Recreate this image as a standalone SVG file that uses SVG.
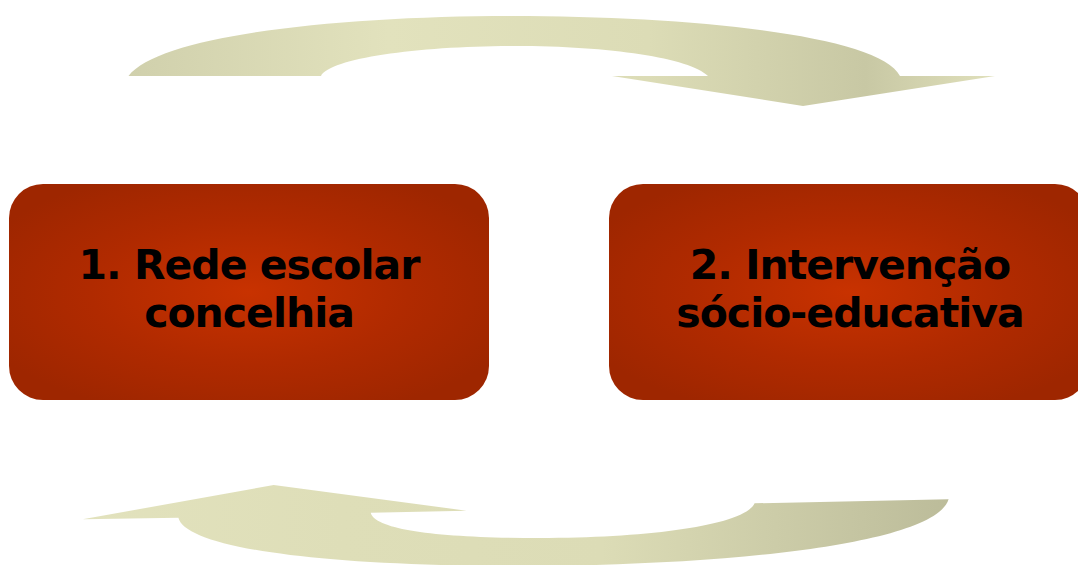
<svg xmlns="http://www.w3.org/2000/svg" width="1078" height="565" viewBox="0 0 1078 565">
  <defs>
    <radialGradient id="boxFill" cx="0.5" cy="0.5" r="0.6">
      <stop offset="0" stop-color="#c83200"/>
      <stop offset="0.55" stop-color="#b02a00"/>
      <stop offset="1" stop-color="#9e2600"/>
    </radialGradient>
    <linearGradient id="arrowTop" x1="0" y1="0" x2="1" y2="0">
      <stop offset="0" stop-color="#d0d0ac"/>
      <stop offset="0.3" stop-color="#e2e2bd"/>
      <stop offset="0.6" stop-color="#dcdcb6"/>
      <stop offset="0.85" stop-color="#c8c8a4"/>
      <stop offset="1" stop-color="#e0e0bb"/>
    </linearGradient>
    <linearGradient id="arrowBot" x1="0" y1="0" x2="1" y2="0">
      <stop offset="0" stop-color="#e2e2bd"/>
      <stop offset="0.3" stop-color="#dedeb8"/>
      <stop offset="0.6" stop-color="#dcdcb6"/>
      <stop offset="1" stop-color="#bcbc9a"/>
    </linearGradient>
  </defs>
  <style>
    .box { fill: url(#boxFill); }
    .label { font-family: "DejaVu Sans", Verdana, sans-serif; font-weight: bold; font-size: 41px; letter-spacing: -1px; fill: #000000; text-anchor: middle; }
  </style>
  <rect width="1078" height="565" fill="#ffffff"/>
  <g id="connectors">
    <path id="arrow-top" fill="url(#arrowTop)" d="M128.5,76 C160,35 340,16 512,16 C690,16 880,35 900,76 L995,76 L803,106 L612,76 L708,76 C690,58 610,46 515,46 C420,46 330,58 321,76 Z"/>
    <path id="arrow-bottom" fill="url(#arrowBot)" d="M82.6,519.3 L273.7,485 L466.5,510.7 L370.7,512.7 C375,530 440,538 540,538 C650,538 745,525 754.6,503.3 L948.6,499.3 C935,545 720,566 520,566 C300,566 185,545 178.4,517.7 Z"/>
  </g>
  <g id="node1">
    <rect class="box" x="9" y="184" width="480" height="216" rx="34" ry="34"/>
    <text class="label" x="249" y="279">1. Rede escolar</text>
    <text class="label" x="249" y="327">concelhia</text>
  </g>
  <g id="node2">
    <rect class="box" x="609" y="184" width="480" height="216" rx="34" ry="34"/>
    <text class="label" x="850" y="279">2. Intervenção</text>
    <text class="label" x="850" y="327">sócio-educativa</text>
  </g>
</svg>
